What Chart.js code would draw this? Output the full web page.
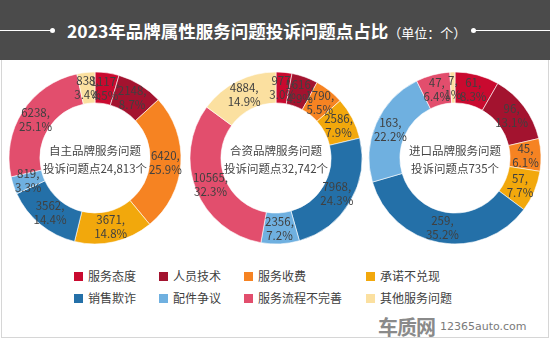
<!DOCTYPE html>
<html>
<head>
<meta charset="utf-8">
<script src="https://cdn.jsdelivr.net/npm/chart.js@4/dist/chart.umd.min.js"></script>
<style>
  body { margin:0; width:550px; height:340px; overflow:hidden; background:#fff; font-family:"Noto Sans CJK SC", sans-serif; }
  #banner { position:absolute; left:0; top:0; width:550px; height:60px; background:#4b4b4b; }
  #frame { position:absolute; left:1px; top:60px; width:546px; height:277px; border:1px solid #d6d6d6; border-top:none; }
  .line { position:absolute; top:30px; height:1px; background:#fff; }
  .dot { position:absolute; top:28px; width:5px; height:5px; border-radius:50%; background:#fff; }
  #title { position:absolute; left:67px; top:18px; color:#fff; font-size:17.5px; font-weight:bold; white-space:nowrap; }
  #title span { font-size:13px; font-weight:normal; }
  .box { position:absolute; width:180px; height:180px; }
  .center { position:absolute; width:180px; text-align:center; font-size:11.5px; line-height:18px; color:#454545; }
  .leg { position:absolute; font-size:12px; color:#404040; white-space:nowrap; }
  .leg i { display:inline-block; width:9px; height:9px; margin-right:5px; vertical-align:0px; }
  #logo { position:absolute; left:378px; top:312px; color:#8a8a8a; font-size:20px; font-weight:bold; letter-spacing:-1px; }
  #site { position:absolute; left:440px; top:320px; color:#7a7a7a; font-size:11px; font-family:"DejaVu Sans", sans-serif; }
</style>
</head>
<body>
<div id="banner"></div>
<div id="frame"></div>
<div class="line" style="left:0;width:50px"></div><div class="dot" style="left:50px"></div>
<div class="dot" style="left:471px"></div><div class="line" style="left:476px;width:74px"></div>
<div id="title">2023年品牌属性服务问题投诉问题点占比<span>（单位：个）</span></div>

<div class="box" style="left:5px;top:68px"><canvas id="c1" width="180" height="180"></canvas></div>
<div class="box" style="left:186px;top:68px"><canvas id="c2" width="180" height="180"></canvas></div>
<div class="box" style="left:365px;top:68px"><canvas id="c3" width="180" height="180"></canvas></div>
<div class="center" style="left:5px;top:141px">自主品牌服务问题<br>投诉问题点24,813个</div>
<div class="center" style="left:186px;top:141px">合资品牌服务问题<br>投诉问题点32,742个</div>
<div class="center" style="left:365px;top:141px">进口品牌服务问题<br>投诉问题点735个</div>

<div id="legend"></div>
<div id="logo">车质网</div>
<div id="site">12365auto.com</div>

<script>
const categories = ['服务态度', '人员技术', '服务收费', '承诺不兑现', '销售欺诈', '配件争议', '服务流程不完善', '其他服务问题'];
const colors = ['#c90a2f', '#a3132f', '#f68322', '#f2a80c', '#2470a8', '#6fb0e0', '#e24e6d', '#fbe0a0'];

const domestic = [1117, 2148, 6420, 3671, 3562, 819, 6238, 838];
const domesticPct = ['4.5%', '8.7%', '25.9%', '14.8%', '14.4%', '3.3%', '25.1%', '3.4%'];
const joint = [977, 1616, 1790, 2586, 7968, 2356, 10565, 4884];
const jointPct = ['3.0%', '4.9%', '5.5%', '7.9%', '24.3%', '7.2%', '32.3%', '14.9%'];
const imported = [61, 96, 45, 57, 259, 163, 47, 7];
const importedPct = ['8.3%', '13.1%', '6.1%', '7.7%', '35.2%', '22.2%', '6.4%', '1%'];

// slice labels: "value,\npct"
const sliceLabels = {
  id: 'sliceLabels',
  afterDatasetsDraw(chart) {
    const ctx = chart.ctx;
    const ds = chart.data.datasets[0];
    const pct = chart.options.plugins.sliceLabels.pct;
    ctx.save();
    ctx.font = '11.5px "Noto Sans CJK SC", sans-serif';
    ctx.fillStyle = '#404040';
    ctx.textAlign = 'center';
    ctx.textBaseline = 'middle';
    chart.getDatasetMeta(0).data.forEach(function (arc, i) {
      const p = arc.getCenterPoint();
      ctx.fillText(ds.data[i] + ',', p.x, p.y - 7);
      ctx.fillText(pct[i], p.x, p.y + 7);
    });
    ctx.restore();
  }
};

function makeDonut(id, values, pct) {
  new Chart(document.getElementById(id), {
    type: 'doughnut',
    data: {
      labels: categories,
      datasets: [{ data: values, backgroundColor: colors, borderColor: '#ffffff', borderWidth: 0.6 }]
    },
    options: {
      responsive: false,
      animation: false,
      cutout: '64%',
      radius: 86,
      layout: { padding: 0 },
      plugins: {
        legend: { display: false },
        tooltip: { enabled: false },
        sliceLabels: { pct: pct }
      }
    },
    plugins: [sliceLabels]
  });
}

makeDonut('c1', domestic, domesticPct);
makeDonut('c2', joint, jointPct);
makeDonut('c3', imported, importedPct);

// legend, 4 columns x 2 rows
const legX = [74, 159, 244, 366];
const legY = [267, 289];
const legend = document.getElementById('legend');
categories.forEach(function (name, i) {
  const d = document.createElement('div');
  d.className = 'leg';
  d.style.left = legX[i % 4] + 'px';
  d.style.top = legY[Math.floor(i / 4)] + 'px';
  d.innerHTML = '<i style="background:' + colors[i] + '"></i>' + name;
  legend.appendChild(d);
});
</script>
</body>
</html>
